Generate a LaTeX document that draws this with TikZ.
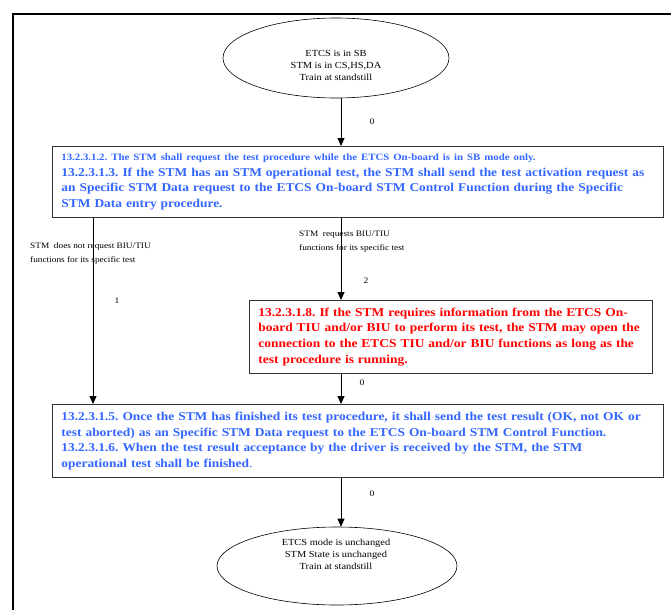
\documentclass[tikz,border=0pt]{standalone}
\usepackage{fontspec}
\setmainfont[FakeStretch=1.12]{Liberation Serif}
\usetikzlibrary{arrows.meta,shapes.geometric}
\definecolor{reqblue}{RGB}{51,102,255}
\definecolor{reqred}{RGB}{255,0,0}
\tikzset{
  stbox/.style={draw=black!80, line width=0.8pt, rectangle, anchor=north west,
    inner xsep=9pt, inner ysep=0pt, align=left,
    font=\bfseries\fontsize{12}{15.6}\selectfont},
  state/.style={draw, line width=0.6pt, ellipse, inner sep=0pt},
  statetext/.style={align=center, inner sep=0pt, font=\fontsize{9.3}{12}\selectfont},
  lbl/.style={font=\fontsize{8.3}{14}\selectfont, align=left, inner sep=0pt, anchor=north west},
  num/.style={font=\fontsize{8.5}{10}\selectfont, inner sep=0pt},
  flow/.style={draw, line width=0.8pt, -{Triangle[length=8pt,width=7pt]}}
}
\begin{document}
\frenchspacing
\begin{tikzpicture}[x=1pt,y=-1pt]
\useasboundingbox (0,0) rectangle (671,610);
\draw[line width=1.6pt] (13,610) -- (13,14) -- (671,14);

\node[state, minimum width=226pt, minimum height=80pt] (start) at (336,58) {};
\node[statetext] (starttxt) at (336,65) {ETCS is in SB\\STM is in CS,HS,DA\\Train at standstill};

\node[stbox, text=reqblue, minimum width=611pt, minimum height=71pt, text width=593pt]
  (b1) at (52,146)
  {\mbox{\fontsize{9.65}{11.5}\selectfont 13.2.3.1.2. The STM shall request the test procedure while the ETCS On-board is in SB mode only.}\\
   \mbox{13.2.3.1.3. If the STM has an STM operational test, the STM shall send the test activation request as}\\
   \mbox{an Specific STM Data request to the ETCS On-board STM Control Function during the Specific}\\
   \mbox{STM Data entry procedure.}};

\node[stbox, text=reqred, minimum width=403pt, minimum height=73pt, text width=385pt,
  font=\bfseries\fontsize{12}{15.8}\selectfont]
  (b2) at (249,300)
  {\mbox{13.2.3.1.8. If the STM requires information from the ETCS On-}\\
   \mbox{board TIU and/or BIU to perform its test, the STM may open the}\\
   \mbox{connection to the ETCS TIU and/or BIU functions as long as the}\\
   \mbox{test procedure is running.}};

\node[stbox, text=reqblue, minimum width=611pt, minimum height=73pt, text width=593pt]
  (b3) at (52,404)
  {\mbox{13.2.3.1.5. Once the STM has finished its test procedure, it shall send the test result (OK, not OK or}\\
   \mbox{test aborted) as an Specific STM Data request to the ETCS On-board STM Control Function.}\\
   \mbox{13.2.3.1.6. When the test result acceptance by the driver is received by the STM, the STM}\\
   \mbox{operational test shall be finished\mdseries.}};

\node[state, minimum width=240pt, minimum height=78pt] (end) at (337,566) {};
\node[statetext] (endtxt) at (336,554) {ETCS mode is unchanged\\STM State is unchanged\\Train at standstill};

\coordinate (c1) at (341,0);
\coordinate (c2) at (93,0);

\draw[flow] (start.south -| c1) -- (b1.north -| c1);
\draw[flow] (b1.south -| c2) -- (b3.north -| c2);
\draw[flow] (b1.south -| c1) -- (b2.north -| c1);
\draw[flow] (b2.south -| c1) -- (b3.north -| c1);
\draw[flow] (b3.south -| c1) -- (end.north -| c1);

\node[num] (n0a) at (372,122) {0};
\node[lbl] (l1) at (30,243) {STM\ \ does not request BIU/TIU\\functions for its specific test};
\node[lbl] (l2) at (299,231) {STM\ \ requests BIU/TIU\\functions for its specific test};
\node[num] (n1) at (117,301) {1};
\node[num] (n2) at (366,281) {2};
\node[num] (n0b) at (362,383) {0};
\node[num] (n0c) at (372,494) {0};
\end{tikzpicture}
\end{document}
